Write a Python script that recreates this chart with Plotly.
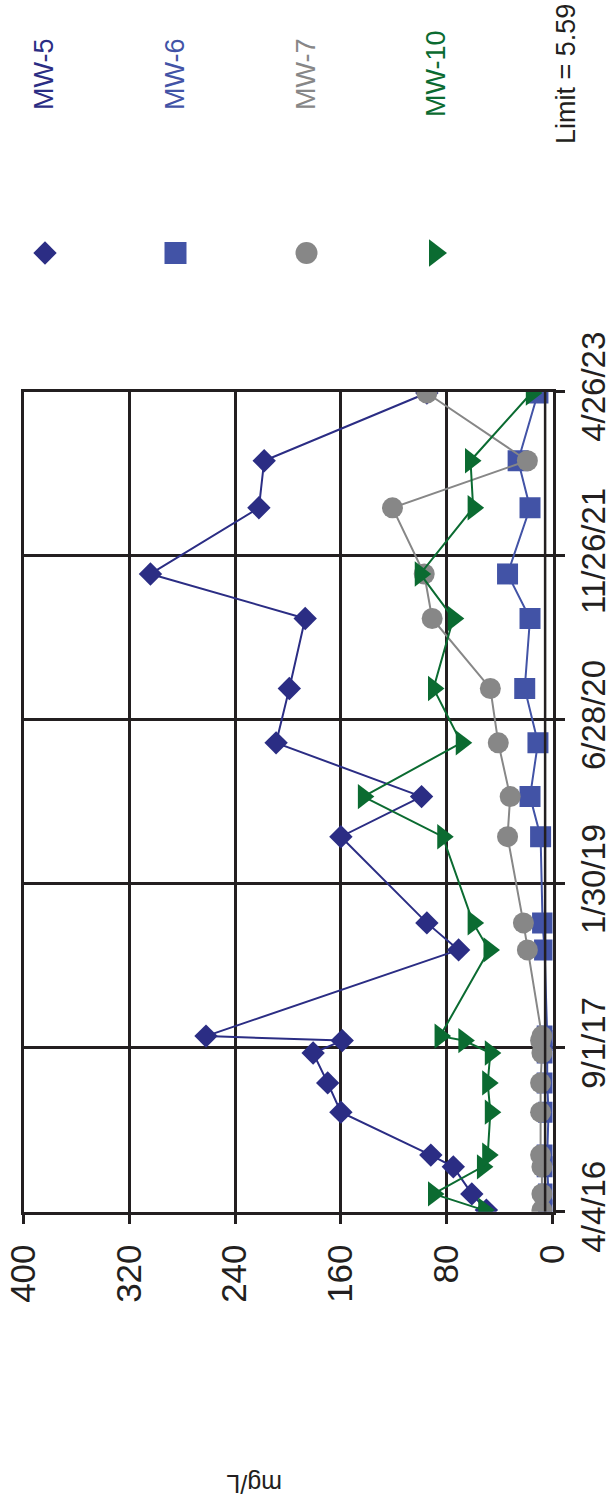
import plotly.graph_objects as go

# Sampling dates shared by all wells
dates = ["2016-04-09", "2016-05-30", "2016-08-23", "2016-09-29", "2017-02-11",
         "2017-05-14", "2017-08-16", "2017-09-24", "2017-10-08", "2018-07-06",
         "2018-09-29", "2019-06-27", "2019-10-31", "2020-04-17", "2020-10-05",
         "2021-05-13", "2021-09-30", "2022-04-26", "2022-09-21", "2023-04-22"]

# Concentrations, mg/L
mw5 = [50, 61, 75, 92, 160, 170, 181, 159, 262, 71, 95, 160, 99, 209, 199, 187, 304, 222, 218, 95]
mw6 = [3, 3, 4, 4, 3, 4, 4, 3, 4, 6, 7.5, 9, 17, 11, 21, 17, 34, 17, 26, 11]
mw7 = [8, 8, 8, 9, 9, 9, 8, 9, 8, 19, 22, 34, 32, 41, 47, 91, 97, 121, 19, 95]
mw10 = [52, 90, 53, 49, 47, 49, 47, 67, 85, 48, 60, 83, 143, 69, 90, 75, 100, 60, 62, 16]

limit_value = 5.59
date_range = ["2016-04-04", "2023-04-26"]

value_ticks = [0, 80, 160, 240, 320, 400]
date_ticks = ["2016-04-04", "2017-09-01", "2019-01-30", "2020-06-28", "2021-11-26", "2023-04-26"]
date_labels = ["4/4/16", "9/1/17", "1/30/19", "6/28/20", "11/26/21", "4/26/23"]

series_names = ["MW-5", "MW-6", "MW-7", "MW-10"]
series_values = [mw5, mw6, mw7, mw10]
colors = ["#2b2d84", "#4253a6", "#878787", "#0b6b31"]
symbols = ["diamond", "square", "circle", "triangle-right"]
plot_sizes = [18, 21, 21, 22]

FONT = "Liberation Sans, Arial, sans-serif"
INK = "#231f20"
W, H = 611, 1506

# plot area in pixels
left, right, top, bottom = 23.5, 552.5, 391.7, 1211.7

fig = go.Figure()

for name, vals, col, sym, sz in zip(series_names, series_values, colors, symbols, plot_sizes):
    fig.add_trace(go.Scatter(
        x=vals, y=dates, mode="lines+markers", name=name,
        line=dict(color=col, width=2),
        marker=dict(symbol=sym, size=sz, color=col, opacity=1, line=dict(width=0)),
        xaxis="x", yaxis="y", showlegend=False,
    ))

fig.add_trace(go.Scatter(
    x=[limit_value, limit_value], y=date_range, mode="lines",
    line=dict(color=INK, width=2.5), name="Limit", showlegend=False,
    xaxis="x", yaxis="y",
))

# rotated key: symbols and labels on a pixel-coordinate overlay
key_x_text = [44, 175, 306, 436]
key_x_mark = [45, 175.5, 306.5, 435]
key_y_text = 74
key_y_mark = 253
key_sizes = [18, 22, 22, 24]

fig.add_trace(go.Scatter(
    x=key_x_mark, y=[key_y_mark] * 4, mode="markers",
    marker=dict(symbol=symbols, size=key_sizes, color=colors, opacity=1, line=dict(width=0)),
    xaxis="x2", yaxis="y2", showlegend=False, hoverinfo="skip",
))

annotations = []
for name, col, kx in zip(series_names, colors, key_x_text):
    annotations.append(dict(
        x=kx, y=key_y_text, xref="x2", yref="y2", text=name, showarrow=False,
        textangle=-90, xanchor="center", yanchor="middle",
        font=dict(family=FONT, size=27, color=col),
    ))
annotations.append(dict(
    x=566, y=key_y_text, xref="x2", yref="y2", text=f"Limit = {limit_value}",
    showarrow=False, textangle=-90, xanchor="center", yanchor="middle",
    font=dict(family=FONT, size=27, color=INK),
))
annotations.append(dict(
    x=254, y=1484, xref="x2", yref="y2", text="mg/L", showarrow=False,
    textangle=180, xanchor="center", yanchor="middle",
    font=dict(family=FONT, size=25, color=INK),
))

axis_common = dict(
    showgrid=True, gridcolor=INK, gridwidth=2.5,
    showline=True, linecolor=INK, linewidth=2.5, mirror=True,
    ticks="outside", ticklen=10, tickwidth=2.5, tickcolor=INK,
    zeroline=False, tickangle=-90, automargin=False,
)

fig.update_layout(
    width=W, height=H,
    margin=dict(l=0, r=0, t=0, b=0, pad=0, autoexpand=False),
    paper_bgcolor="white", plot_bgcolor="rgba(0,0,0,0)",
    showlegend=False,
    xaxis=dict(
        domain=[left / W, right / W], range=[400, 0],
        tickmode="array", tickvals=value_ticks,
        ticktext=[str(v) for v in value_ticks],
        tickfont=dict(family=FONT, size=35, color=INK),
        ticklabelstandoff=6,
        anchor="y", side="bottom",
        **axis_common,
    ),
    yaxis=dict(
        domain=[1 - bottom / H, 1 - top / H], type="date", range=date_range,
        tickmode="array", tickvals=date_ticks, ticktext=date_labels,
        tickfont=dict(family=FONT, size=33, color=INK),
        anchor="x", side="right",
        **axis_common,
    ),
    xaxis2=dict(domain=[0, 1], range=[0, W], visible=False, anchor="y2",
                fixedrange=True, automargin=False),
    yaxis2=dict(domain=[0, 1], range=[H, 0], visible=False, anchor="x2",
                fixedrange=True, automargin=False),
    annotations=annotations,
)

fig.write_html("out.html")
